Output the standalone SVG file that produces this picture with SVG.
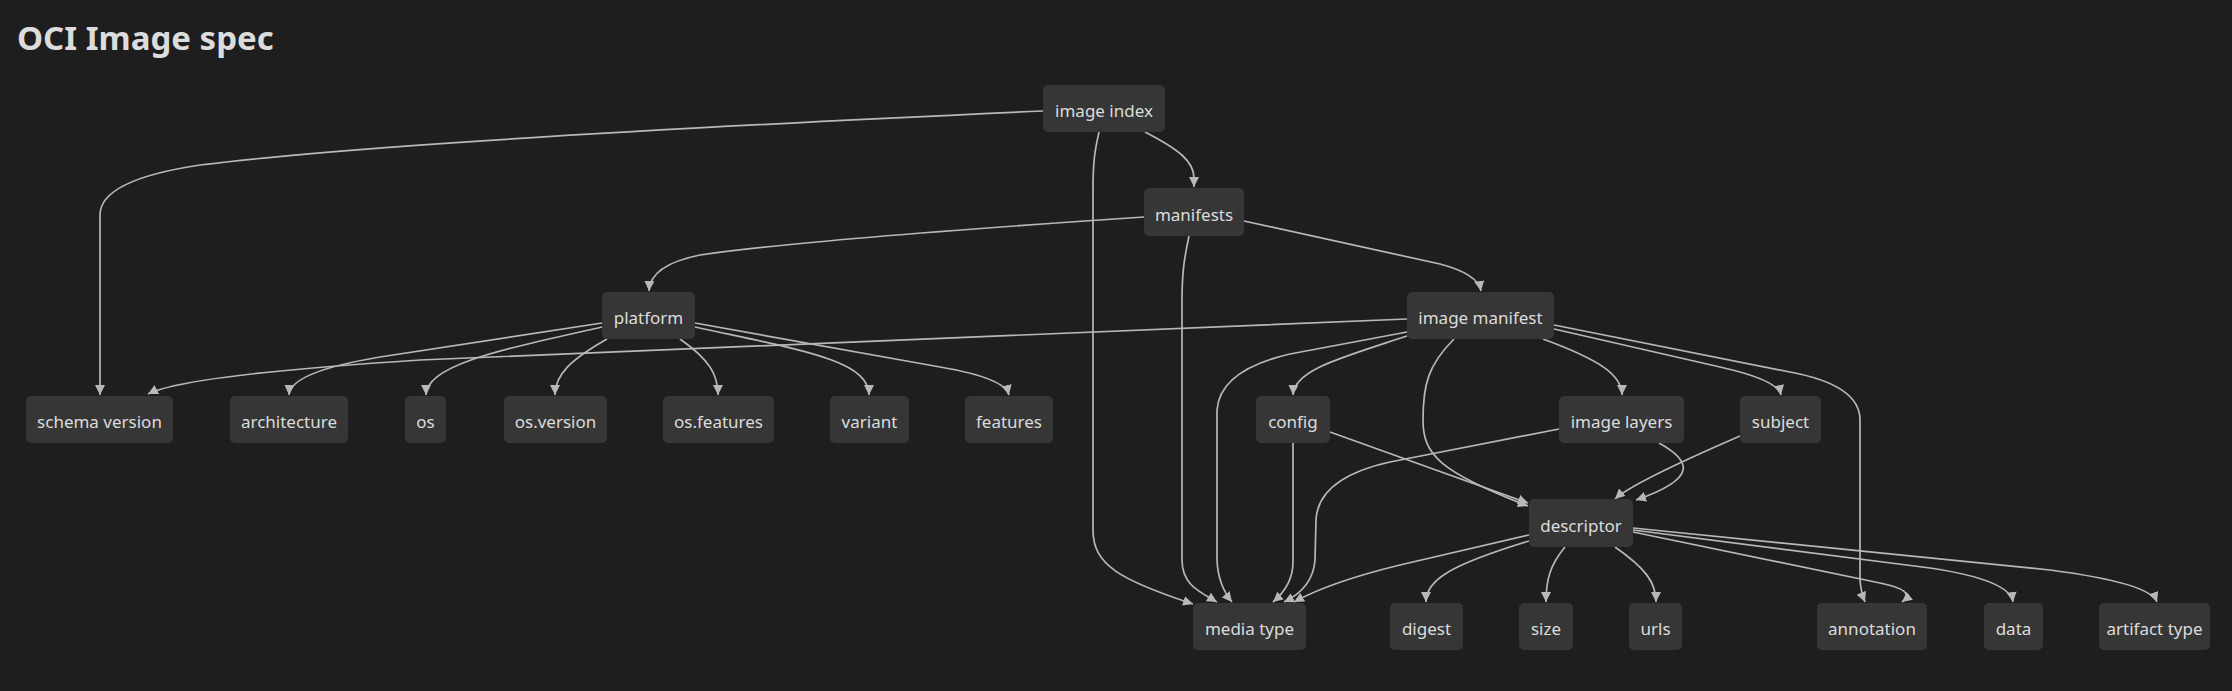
<svg xmlns="http://www.w3.org/2000/svg" width="2232" height="691" viewBox="0 0 2232 691">
<defs>
<style>
.bg{fill:#1e1e1e}
.title{font-family:"Noto Sans","Open Sans",sans-serif;font-weight:700;font-size:33px;fill:#dcdcdc}
.node rect{fill:#363636}
.node text{font-family:"Noto Sans","Open Sans",sans-serif;font-size:17px;fill:#dcdcdc;text-anchor:middle}
.edges path{fill:none;stroke:#b8b8b8;stroke-width:1.7;marker-end:url(#arrow)}
</style>
<marker id="arrow" viewBox="0 0 10 10" refX="10" refY="5" markerWidth="10" markerHeight="10" markerUnits="userSpaceOnUse" orient="auto">
<path d="M0,0 L10,5 L0,10 z" fill="#b8b8b8"/>
</marker>
</defs>
<rect class="bg" x="0" y="0" width="2232" height="691"/>
<text class="title" x="17" y="50">OCI Image spec</text>

<g class="edges">
<path d="M1043,111 Q400,140 200,165 Q100,180 100,215 L100,395"/>
<path d="M1145,132 C1180,150 1194,162 1194,178 L1194,187"/>
<path d="M1099,132 C1095,150 1093,160 1093,190 L1093,530 C1093,565 1120,580 1193,604"/>
<path d="M1144,217 Q800,240 700,255 Q650,265 649,291"/>
<path d="M1244,221 L1440,264 Q1478,274 1481,291"/>
<path d="M1189,236 C1185,255 1182,270 1182,300 L1182,560 C1182,585 1200,592 1217,602"/>
<path d="M1407,319 L420,360 Q185,375 148,394"/>
<path d="M602,323 L380,357 Q290,372 289,395"/>
<path d="M602,327 C500,350 426,365 426,395"/>
<path d="M607,339 C570,360 555,375 555,395"/>
<path d="M680,339 C710,360 718,375 718,395"/>
<path d="M695,327 C800,350 869,360 869,395"/>
<path d="M695,323 L940,367 Q1005,378 1009,395"/>
<path d="M1407,332 L1290,354 Q1220,370 1217,410 L1217,560 Q1218,585 1232,602"/>
<path d="M1407,336 C1340,358 1294,370 1293,395"/>
<path d="M1293,443 L1293,562 Q1293,585 1273,602"/>
<path d="M1330,432 L1528,503"/>
<path d="M1454,339 C1428,365 1423,385 1423,420 C1423,455 1440,472 1528,506"/>
<path d="M1559,429 L1390,462 Q1318,478 1316,520 L1315,560 Q1313,588 1284,602"/>
<path d="M1529,535 L1400,565 Q1330,582 1294,602"/>
<path d="M1529,541 C1450,565 1426,580 1426,602"/>
<path d="M1565,547 C1550,565 1546,580 1546,602"/>
<path d="M1615,547 C1645,568 1656,582 1656,602"/>
<path d="M1659,443 C1690,460 1700,478 1636,500"/>
<path d="M1740,436 C1680,462 1630,485 1615,499"/>
<path d="M1543,339 C1600,360 1622,375 1622,395"/>
<path d="M1554,329 L1720,367 Q1778,380 1781,395"/>
<path d="M1554,325 L1790,372 Q1860,385 1860,420 L1860,580 Q1861,592 1865,602"/>
<path d="M1633,532 L1880,583 C1905,588 1912,594 1902,602"/>
<path d="M1633,530 L1930,568 Q2010,580 2013,602"/>
<path d="M1633,528 L2050,570 Q2150,583 2157,602"/>
</g>

<g id="image-index" class="node"><rect x="1043" y="85" width="122" height="47" rx="5"/><text x="1104" y="117">image index</text></g>
<g id="manifests" class="node"><rect x="1144" y="188" width="100" height="48" rx="5"/><text x="1194" y="220.5">manifests</text></g>
<g id="platform" class="node"><rect x="602" y="292" width="93" height="47" rx="5"/><text x="648.5" y="324">platform</text></g>
<g id="image-manifest" class="node"><rect x="1407" y="292" width="147" height="47" rx="5"/><text x="1480.5" y="324">image manifest</text></g>
<g id="schema-version" class="node"><rect x="26" y="396" width="147" height="47" rx="5"/><text x="99.5" y="428">schema version</text></g>
<g id="architecture" class="node"><rect x="230" y="396" width="118" height="47" rx="5"/><text x="289" y="428">architecture</text></g>
<g id="os" class="node"><rect x="405" y="396" width="41" height="47" rx="5"/><text x="425.5" y="428">os</text></g>
<g id="os-version" class="node"><rect x="504" y="396" width="103" height="47" rx="5"/><text x="555.5" y="428">os.version</text></g>
<g id="os-features" class="node"><rect x="663" y="396" width="111" height="47" rx="5"/><text x="718.5" y="428">os.features</text></g>
<g id="variant" class="node"><rect x="830" y="396" width="79" height="47" rx="5"/><text x="869.5" y="428">variant</text></g>
<g id="features" class="node"><rect x="965" y="396" width="88" height="47" rx="5"/><text x="1009" y="428">features</text></g>
<g id="config" class="node"><rect x="1256" y="396" width="74" height="47" rx="5"/><text x="1293" y="428">config</text></g>
<g id="image-layers" class="node"><rect x="1559" y="396" width="125" height="47" rx="5"/><text x="1621.5" y="428">image layers</text></g>
<g id="subject" class="node"><rect x="1740" y="396" width="81" height="47" rx="5"/><text x="1780.5" y="428">subject</text></g>
<g id="descriptor" class="node"><rect x="1529" y="499" width="104" height="48" rx="5"/><text x="1581" y="531.5">descriptor</text></g>
<g id="media-type" class="node"><rect x="1193" y="603" width="113" height="47" rx="5"/><text x="1249.5" y="635">media type</text></g>
<g id="digest" class="node"><rect x="1390" y="603" width="73" height="47" rx="5"/><text x="1426.5" y="635">digest</text></g>
<g id="size" class="node"><rect x="1519" y="603" width="54" height="47" rx="5"/><text x="1546" y="635">size</text></g>
<g id="urls" class="node"><rect x="1629" y="603" width="53" height="47" rx="5"/><text x="1655.5" y="635">urls</text></g>
<g id="annotation" class="node"><rect x="1817" y="603" width="110" height="47" rx="5"/><text x="1872" y="635">annotation</text></g>
<g id="data" class="node"><rect x="1984" y="603" width="59" height="47" rx="5"/><text x="2013.5" y="635">data</text></g>
<g id="artifact-type" class="node"><rect x="2099" y="603" width="111" height="47" rx="5"/><text x="2154.5" y="635">artifact type</text></g>
</svg>
